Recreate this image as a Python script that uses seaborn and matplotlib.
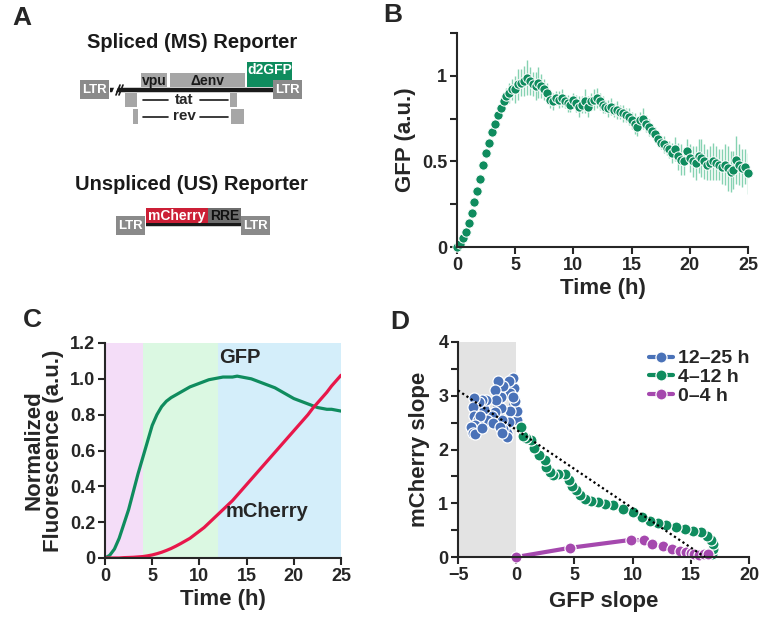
import numpy as np
import pandas as pd
import matplotlib.pyplot as plt
import seaborn as sns
from matplotlib.patches import Rectangle
from matplotlib.ticker import MultipleLocator, FuncFormatter

# ---- panel B: GFP reporter, mean +/- error, every 15 min ----
time_b = np.linspace(0, 25, 101)
gfp_b = [
    0.00, 0.02, 0.05, 0.09, 0.14, 0.20, 0.26, 0.33,
    0.40, 0.48, 0.55, 0.61, 0.67, 0.72, 0.77, 0.81,
    0.85, 0.88, 0.90, 0.92, 0.92, 0.95, 0.96, 0.97,
    0.99, 0.97, 0.95, 0.94, 0.96, 0.94, 0.92, 0.90,
    0.86, 0.85, 0.87, 0.86, 0.87, 0.85, 0.84, 0.83,
    0.86, 0.84, 0.82, 0.83, 0.85, 0.82, 0.85, 0.86,
    0.87, 0.85, 0.83, 0.82, 0.81, 0.82, 0.80, 0.80,
    0.79, 0.78, 0.77, 0.76, 0.74, 0.72, 0.70, 0.74,
    0.75, 0.72, 0.70, 0.68, 0.66, 0.63, 0.61, 0.60,
    0.58, 0.57, 0.55, 0.57, 0.53, 0.51, 0.50, 0.56,
    0.52, 0.50, 0.49, 0.53, 0.52, 0.50, 0.48, 0.49,
    0.50, 0.49, 0.48, 0.47, 0.48, 0.46, 0.44, 0.45,
    0.51, 0.48, 0.46, 0.47, 0.43,
]
gfp_b_err = [
    0.01, 0.01, 0.01, 0.01, 0.01, 0.01, 0.01, 0.01,
    0.015, 0.015, 0.015, 0.015, 0.02, 0.02, 0.02, 0.03,
    0.04, 0.05, 0.06, 0.06,
    0.08, 0.09, 0.08, 0.09, 0.10, 0.08, 0.07, 0.08, 0.09, 0.07, 0.06, 0.06,
    0.05, 0.05, 0.04, 0.05, 0.05, 0.04, 0.05, 0.04,
    0.04, 0.05, 0.06, 0.05, 0.07, 0.06, 0.05, 0.06,
    0.06, 0.05, 0.05, 0.04, 0.05, 0.05, 0.04, 0.05, 0.04, 0.05,
    0.04, 0.05, 0.05, 0.06, 0.05, 0.05, 0.06, 0.05, 0.05, 0.04,
    0.04, 0.04, 0.04, 0.05, 0.04, 0.05, 0.06, 0.07, 0.08, 0.09, 0.08, 0.07,
    0.08, 0.09, 0.10, 0.10, 0.11, 0.10, 0.09, 0.10, 0.11, 0.10, 0.09,
    0.10, 0.12, 0.13, 0.12, 0.11, 0.14, 0.12, 0.11, 0.10, 0.12,
]

# ---- panel C: normalized fluorescence, every 30 min ----
time_c = np.linspace(0, 25, 51)
gfp_c = [
    0.00, 0.015, 0.05, 0.11, 0.19, 0.27, 0.37, 0.47, 0.56, 0.65,
    0.74, 0.80, 0.845, 0.875, 0.895, 0.91, 0.925, 0.94, 0.955, 0.965,
    0.975, 0.985, 0.995, 1.00, 1.005, 1.01, 1.01, 1.01, 1.015, 1.01,
    1.005, 1.00, 0.99, 0.98, 0.97, 0.96, 0.95, 0.935, 0.92, 0.905,
    0.89, 0.88, 0.87, 0.86, 0.85, 0.84, 0.835, 0.83, 0.83, 0.825,
    0.82,
]
mcherry_c = [
    0.0, 0.0, 0.0, 0.0, 0.002, 0.003, 0.004, 0.006, 0.008, 0.012,
    0.017, 0.024, 0.032, 0.042, 0.053, 0.066, 0.08, 0.095, 0.11, 0.13,
    0.15, 0.17, 0.195, 0.22, 0.245, 0.27, 0.295, 0.32, 0.35, 0.38,
    0.41, 0.44, 0.47, 0.50, 0.53, 0.56, 0.59, 0.62, 0.65, 0.68,
    0.71, 0.74, 0.77, 0.80, 0.835, 0.865, 0.895, 0.925, 0.96, 0.99,
    1.02,
]
phase_edges = [0, 4, 12, 25]
phase_colors = ["#f4ddf8", "#dbf8e2", "#d4eefa"]

# ---- panel D: slope trajectories ----
early_gfp = [0.0, 4.6, 9.9, 11.0, 11.7, 12.6, 13.4, 14.1, 14.6, 15.0, 15.3, 15.7, 16.1, 16.5]
early_mch = [0.0, 0.17, 0.32, 0.31, 0.25, 0.20, 0.155, 0.12, 0.10, 0.075, 0.05, 0.045, 0.06, 0.05]
mid_gfp = [16.8, 16.9, 16.9, 16.7, 16.4, 15.9, 15.2, 14.5, 13.7, 12.9, 12.2, 11.5,
           10.8, 10.0, 9.2, 8.3, 7.6, 7.0, 6.4, 5.9, 5.45, 5.1, 4.8, 4.5, 4.15,
           3.6, 3.15, 2.87, 2.6, 2.44, 2.0, 1.55, 1.3, 0.86, 0.57, 0.43]
mid_mch = [0.05, 0.15, 0.25, 0.32, 0.40, 0.46, 0.49, 0.52, 0.56, 0.59, 0.63, 0.67,
           0.75, 0.83, 0.89, 0.96, 0.99, 1.02, 1.05, 1.08, 1.15, 1.24, 1.33, 1.43, 1.55,
           1.54, 1.52, 1.58, 1.67, 1.80, 1.89, 2.02, 2.17, 2.21, 2.26, 2.42]
late_gfp = [0.1, 0.05, -0.1, -0.15, -0.3, -0.6, -0.5, -0.3, -0.5, -0.6, -0.75, -0.8,
            -1.15, -1.25, -1.3, -1.3, -1.15, -1.55, -1.85, -1.7, -1.85, -2.1, -2.5,
            -2.8, -2.6, -2.95, -3.2, -3.6, -3.75, -3.6, -3.3, -3.15, -3.5, -3.85,
            -3.75, -3.5, -2.9, -2.0, -1.4, -1.2]
late_mch = [2.55, 2.72, 2.90, 3.15, 3.33, 3.28, 3.05, 2.98, 2.72, 2.52, 2.30, 2.24,
            2.38, 2.55, 2.78, 2.98, 3.18, 3.28, 3.10, 2.93, 2.70, 2.62, 2.54,
            2.75, 2.92, 2.93, 2.88, 2.95, 2.80, 2.62, 2.55, 2.62, 2.45, 2.42,
            2.30, 2.28, 2.40, 2.50, 2.42, 2.30]
fit_gfp = [-5.0, 16.2]
fit_mch = [3.1, 0.0]

GREEN = "#0f8c5e"
LIGHT_GREEN = "#86d2b2"
RED = "#e8174a"
BLUE = "#4a72b8"
PURPLE = "#a548ae"

sns.set_style("ticks")
plt.rcParams["font.family"] = ["Liberation Sans", "DejaVu Sans"]
plt.rcParams["font.weight"] = "bold"
plt.rcParams["axes.labelweight"] = "bold"
plt.rcParams["axes.linewidth"] = 1.5
plt.rcParams["xtick.major.width"] = 1.5
plt.rcParams["ytick.major.width"] = 1.5
plt.rcParams["ytick.minor.width"] = 1.5
plt.rcParams["xtick.major.size"] = 5
plt.rcParams["ytick.major.size"] = 5
plt.rcParams["ytick.minor.size"] = 5
plt.rcParams["xtick.labelsize"] = 13
plt.rcParams["ytick.labelsize"] = 13
plt.rcParams["axes.labelsize"] = 16

W, H = 762, 617
fig = plt.figure(figsize=(W / 100, H / 100), dpi=100)


def px_axes(left, top, right, bottom):
    return fig.add_axes([left / W, 1 - bottom / H, (right - left) / W, (bottom - top) / H])


def style_axes(ax):
    sns.despine(ax=ax)
    ax.tick_params(direction="out", pad=2)
    for lab in ax.get_xticklabels() + ax.get_yticklabels():
        lab.set_fontweight("bold")


# ---------------- panel A: reporter schematics ----------------
axA = px_axes(0, 0, 380, 290)
axA.set_xlim(0, 380)
axA.set_ylim(290, 0)
axA.axis("off")

# (x, y, w, h, face, label, text colour, text y)
boxes = [
    (141, 73, 26, 14, "#a6a6a6", "vpu", "#1a1a1a", 81),
    (170, 73, 75, 14, "#a6a6a6", "\u0394env", "#1a1a1a", 81),
    (247, 62, 45, 25, GREEN, "d2GFP", "white", 70),
    (125, 93, 12, 14, "#a6a6a6", "", "white", 0),
    (230, 93, 7, 14, "#a6a6a6", "", "white", 0),
    (133, 109, 5, 15, "#a6a6a6", "", "white", 0),
    (231, 109, 13, 15, "#a6a6a6", "", "white", 0),
    (146, 208, 62, 15, "#cc1f36", "mCherry", "white", 216),
    (208, 208, 33, 15, "#6e6e6e", "RRE", "#111111", 216),
]
ltr_boxes = [(80, 80), (273, 80), (116, 216), (241, 216)]
backbones = [(110, 273, 90), (146, 241, 224)]

for x0, x1, y in backbones:
    axA.plot([x0, x1], [y, y], color="#1a1a1a", lw=3.2, solid_capstyle="butt", zorder=1)
axA.plot([113, 117], [95, 85], color="white", lw=2.5, zorder=2)
axA.plot([116, 120], [95, 85], color="#1a1a1a", lw=1.2, zorder=3)
axA.plot([119, 123], [95, 85], color="#1a1a1a", lw=1.2, zorder=3)
for x, y, w, h, face, label, tc, ty in boxes:
    axA.add_patch(Rectangle((x, y), w, h, facecolor=face, edgecolor="none", zorder=2))
    if label:
        axA.text(x + w / 2, ty, label, ha="center", va="center", color=tc,
                 fontsize=10, fontweight="bold", zorder=3)
for x, y in ltr_boxes:
    axA.add_patch(Rectangle((x, y), 29, 19, facecolor="#8a8a8a", edgecolor="none", zorder=4))
    axA.text(x + 14.5, y + 10, "LTR", ha="center", va="center", color="white",
             fontsize=9.5, fontweight="bold", zorder=5)
for label, y in [("tat", 100), ("rev", 117)]:
    axA.plot([143, 168], [y, y], color="#1a1a1a", lw=1.2)
    axA.plot([200, 228], [y, y], color="#1a1a1a", lw=1.2)
    axA.text(184, y - 0.5, label, ha="center", va="center", fontsize=11, fontweight="bold")
axA.text(192, 43, "Spliced (MS) Reporter", ha="center", va="center", fontsize=14.5,
         fontweight="bold", color="#1a1a1a")
axA.text(191, 185, "Unspliced (US) Reporter", ha="center", va="center", fontsize=14.5,
         fontweight="bold", color="#1a1a1a")

# ---------------- panel B ----------------
axB = px_axes(457, 33, 748, 247)
axB.errorbar(time_b, gfp_b, yerr=gfp_b_err, fmt="none", ecolor=LIGHT_GREEN,
             elinewidth=1.0, capsize=0, zorder=1)
sns.scatterplot(x=time_b, y=gfp_b, ax=axB, color=GREEN, s=45, edgecolor="white",
                linewidth=0.7, zorder=2, clip_on=False)
axB.set_xlim(0, 25)
axB.set_ylim(0, 1.25)
axB.xaxis.set_major_locator(MultipleLocator(5))
axB.set_yticks([0, 0.5, 1])
axB.set_yticklabels(["0", "0.5", "1"])
axB.yaxis.set_minor_locator(MultipleLocator(0.25))
axB.set_xlabel("Time (h)", labelpad=3)
axB.set_ylabel("GFP (a.u.)", labelpad=4)
style_axes(axB)

# ---------------- panel C ----------------
axC = px_axes(105, 343, 341, 558)
for (lo, hi), col in zip(zip(phase_edges[:-1], phase_edges[1:]), phase_colors):
    axC.axvspan(lo, hi, color=col, lw=0, zorder=0)
df_c = pd.DataFrame({"time": np.concatenate([time_c, time_c]),
                     "value": gfp_c + mcherry_c,
                     "reporter": ["GFP"] * len(time_c) + ["mCherry"] * len(time_c)})
sns.lineplot(data=df_c, x="time", y="value", hue="reporter",
             palette={"GFP": GREEN, "mCherry": RED}, lw=2.3, ax=axC, legend=False)
axC.set_xlim(0, 25)
axC.set_ylim(0, 1.2)
axC.xaxis.set_major_locator(MultipleLocator(5))
axC.yaxis.set_major_locator(MultipleLocator(0.2))
axC.yaxis.set_major_formatter(FuncFormatter(lambda v, p: "0" if abs(v) < 1e-9 else f"{v:.1f}"))
axC.text(14.3, 1.12, "GFP", ha="center", va="center", fontsize=14.5, fontweight="bold")
axC.text(17.2, 0.26, "mCherry", ha="center", va="center", fontsize=14.5, fontweight="bold")
axC.set_xlabel("Time (h)", labelpad=3)
axC.set_ylabel("Normalized\nFluorescence (a.u.)", labelpad=4, linespacing=0.95)
style_axes(axC)

# ---------------- panel D ----------------
axD = px_axes(458, 342, 749, 557)
axD.axvspan(-5, 0, ymax=1, color="#e3e3e3", lw=0, zorder=0)
for gx, my, col, lab in [(late_gfp, late_mch, BLUE, "12\u201325 h"),
                         (mid_gfp, mid_mch, GREEN, "4\u201312 h"),
                         (early_gfp, early_mch, PURPLE, "0\u20134 h")]:
    sns.lineplot(x=gx, y=my, sort=False, estimator=None, color=col, lw=3,
                 marker="o", markersize=8, markeredgecolor="white", markeredgewidth=0.9,
                 label=lab, ax=axD, clip_on=False)
axD.plot(fit_gfp, fit_mch, color="black", lw=1.6, ls=(0, (1, 1.3)), zorder=5)
axD.set_xlim(-5, 20)
axD.set_ylim(0, 4)
axD.xaxis.set_major_locator(MultipleLocator(5))
axD.yaxis.set_major_locator(MultipleLocator(1))
axD.yaxis.set_minor_locator(MultipleLocator(0.5))
axD.set_xlabel("GFP slope", labelpad=5)
axD.set_ylabel("mCherry slope", labelpad=6)
leg = axD.legend(loc="upper right", frameon=False, fontsize=14, handlelength=1.2,
                 handletextpad=0.3, labelspacing=0.05, borderaxespad=0.0,
                 bbox_to_anchor=(1.03, 1.0))
for t in leg.get_texts():
    t.set_fontweight("bold")
style_axes(axD)

# panel letters
for letter, x, y in [("A", 22, 18), ("B", 393, 15), ("C", 32, 320), ("D", 400, 322)]:
    fig.text(x / W, 1 - y / H, letter, ha="center", va="center", fontsize=19,
             fontweight="bold")

fig.savefig("out.png", dpi=100)
